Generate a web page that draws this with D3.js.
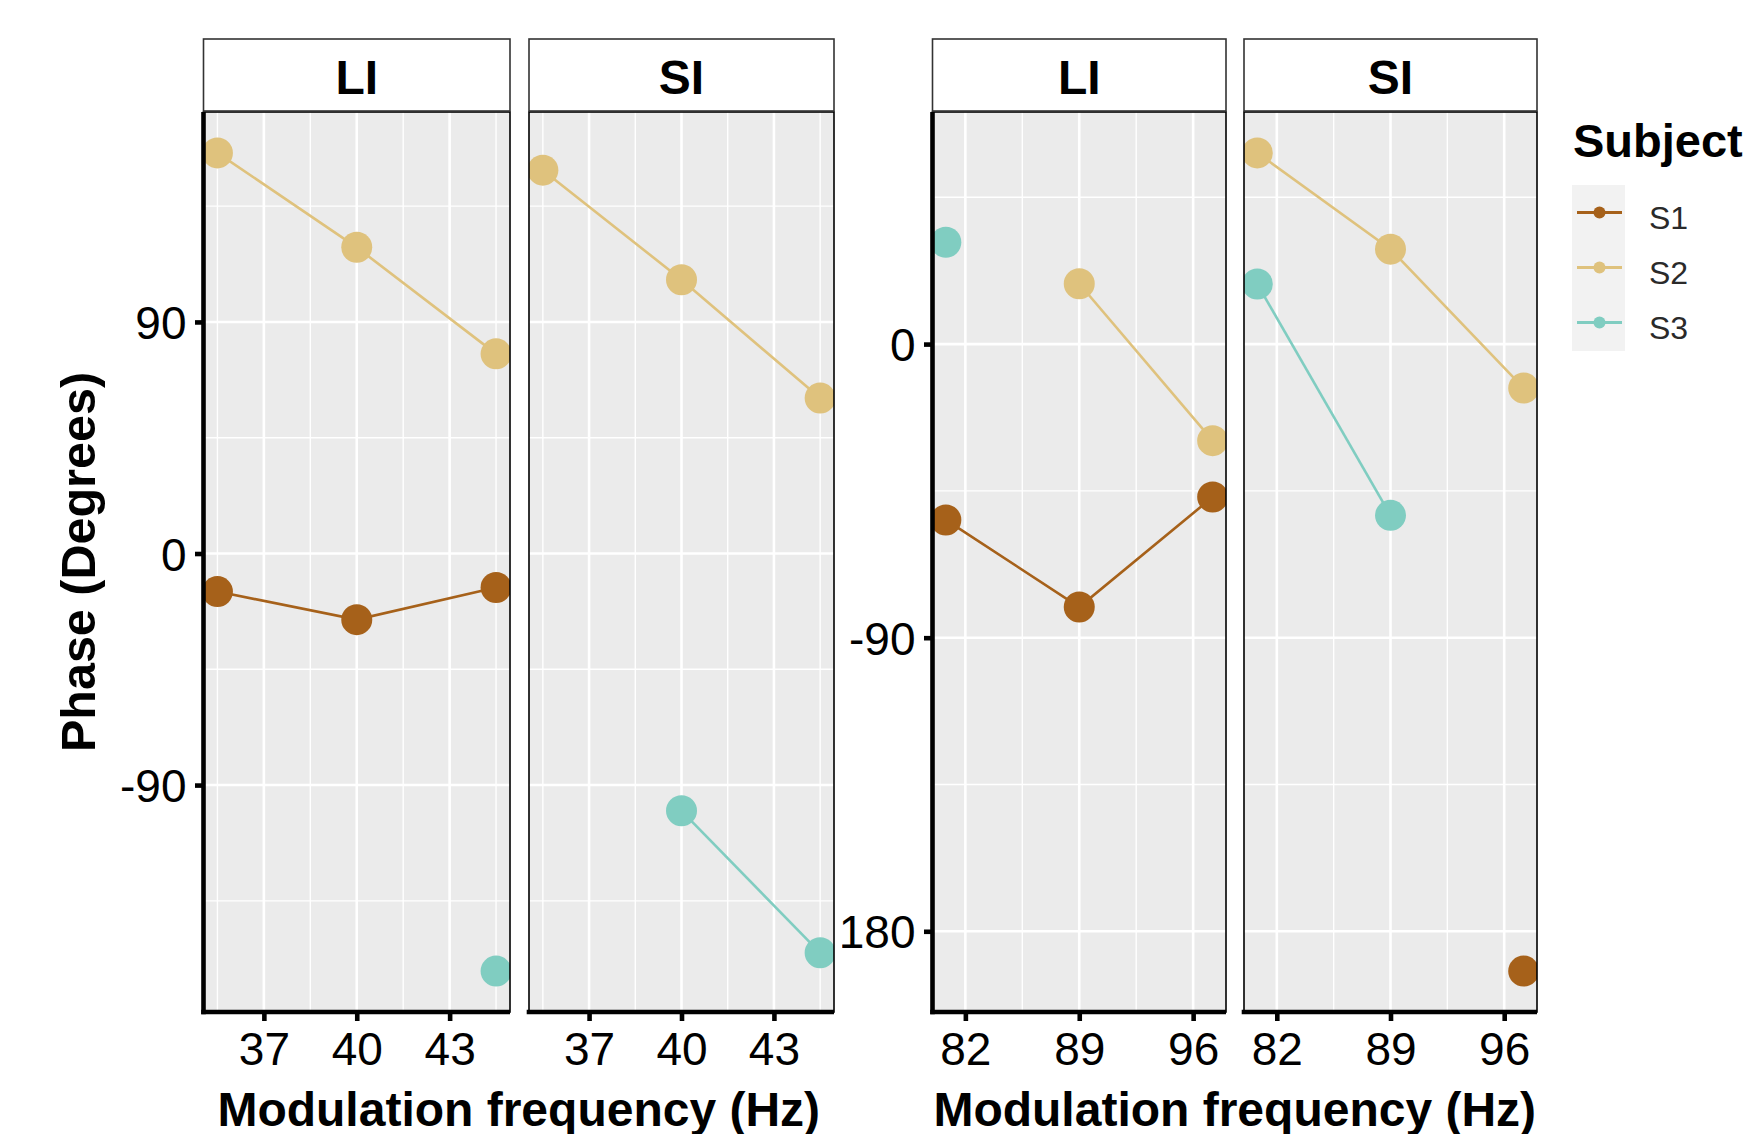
<!DOCTYPE html>
<html>
<head>
<meta charset="utf-8">
<script src="https://cdn.jsdelivr.net/npm/d3@7"></script>
<style>
  body { margin: 0; background: #fff; }
  text { font-family: "Liberation Sans", Arial, Helvetica, sans-serif; }
</style>
</head>
<body>
<svg id="chart" width="1748" height="1134"></svg>
<script>
// data
const subjects = ['S1', 'S2', 'S3']
const colors   = ['#A6611A', '#DFC27D', '#80CDC1']
const facets   = ['LI', 'SI']

const freqLow   = [35.5, 40, 44.5]
const freqHigh  = [80.8, 89, 97.2]
const xTicksLow  = [37, 40, 43]
const xTicksHigh = [82, 89, 96]
const yTicksLow  = [90, 0, -90]
const yTicksHigh = [0, -90, -180]

// phase in degrees, one row per subject (S1, S2, S3), null = no point
const phaseLowLI  = [[-14.8, -25.7, -13.2], [155.7, 119.0, 77.6], [null, null, -162.3]]
const phaseLowSI  = [[null, null, null],    [149.0, 106.4, 60.4], [null, -100.0, -155.2]]
const phaseHighLI = [[-53.9, -80.6, -46.9], [null, 18.5, -29.6],  [31.2, null, null]]
const phaseHighSI = [[null, null, -192.2],  [58.6, 29.1, -13.5],  [18.4, -52.5, null]]

const W = 1748, H = 1134
const TOP = 112, BOTTOM = 1012
const svg = d3.select('#chart')
const plain = d => String(d)   // hyphen minus, like R

function minorBreaks (br, lo, hi) {
  const s = br[1] - br[0]
  const out = []
  for (let v = d3.min(br) - s / 2; v <= d3.max(br) + s / 2 + 1e-9; v += s) {
    if (v >= lo && v <= hi) out.push(v)
  }
  return out
}

function expand (vals) {
  const e = d3.extent(vals)
  const p = (e[1] - e[0]) * 0.05
  return [e[0] - p, e[1] + p]
}

function drawPlot (o) {
  const g = svg.append('g')
  if (o.bgWidth) {
    g.append('rect').attr('x', 0).attr('y', 0)
      .attr('width', o.bgWidth).attr('height', H).attr('fill', '#fff')
  }

  const allY = o.panels.flatMap(p => p.flat()).filter(v => v != null)
  const y = d3.scaleLinear().domain(expand(allY)).range([BOTTOM, TOP])
  const xDom = expand(o.freq)
  const yDom = y.domain()

  o.panels.forEach((rows, i) => {
    const [x0, x1] = o.spans[i]
    const x = d3.scaleLinear().domain(xDom).range([x0, x1])
    const pg = g.append('g')

    pg.append('rect')
      .attr('x', x0).attr('y', TOP).attr('width', x1 - x0).attr('height', BOTTOM - TOP)
      .attr('fill', '#EBEBEB')

    // grid
    const grid = pg.append('g').attr('stroke', '#fff')
    grid.selectAll('.vmin').data(minorBreaks(o.xTicks, xDom[0], xDom[1])).join('line')
      .attr('x1', d => x(d)).attr('x2', d => x(d)).attr('y1', TOP).attr('y2', BOTTOM)
      .attr('stroke-width', 1.4)
    grid.selectAll('.hmin').data(minorBreaks(o.yTicks.slice().sort(d3.ascending), yDom[0], yDom[1])).join('line')
      .attr('x1', x0).attr('x2', x1).attr('y1', d => y(d)).attr('y2', d => y(d))
      .attr('stroke-width', 1.4)
    grid.selectAll('.vmaj').data(o.xTicks).join('line')
      .attr('x1', d => x(d)).attr('x2', d => x(d)).attr('y1', TOP).attr('y2', BOTTOM)
      .attr('stroke-width', 2.6)
    grid.selectAll('.hmaj').data(o.yTicks).join('line')
      .attr('x1', x0).attr('x2', x1).attr('y1', d => y(d)).attr('y2', d => y(d))
      .attr('stroke-width', 2.6)

    // data, clipped to the panel
    const clipId = 'clip-' + o.id + '-' + i
    pg.append('clipPath').attr('id', clipId).append('rect')
      .attr('x', x0).attr('y', TOP).attr('width', x1 - x0).attr('height', BOTTOM - TOP)
    const dg = pg.append('g').attr('clip-path', 'url(#' + clipId + ')')

    const series = rows.map((vals, s) => ({
      s, pts: vals.map((v, k) => ({ f: o.freq[k], v }))
    }))
    const line = d3.line().defined(d => d.v != null).x(d => x(d.f)).y(d => y(d.v))

    dg.selectAll('path').data(series).join('path')
      .attr('d', d => line(d.pts))
      .attr('fill', 'none')
      .attr('stroke', d => colors[d.s])
      .attr('stroke-width', 2.6)

    series.forEach(sr => {
      dg.selectAll(null).data(sr.pts.filter(p => p.v != null)).join('circle')
        .attr('cx', d => x(d.f)).attr('cy', d => y(d.v)).attr('r', 15.5)
        .attr('fill', colors[sr.s])
    })

    // panel border
    pg.append('rect')
      .attr('x', x0).attr('y', TOP).attr('width', x1 - x0).attr('height', BOTTOM - TOP)
      .attr('fill', 'none').attr('stroke', '#000').attr('stroke-width', 1.6)

    // strip
    pg.append('rect')
      .attr('x', x0).attr('y', 39).attr('width', x1 - x0).attr('height', 72)
      .attr('fill', '#fff').attr('stroke', '#333').attr('stroke-width', 1.6)
    pg.append('text')
      .attr('x', (x0 + x1) / 2).attr('y', 94)
      .attr('text-anchor', 'middle')
      .attr('font-size', 48).attr('font-weight', 'bold')
      .text(facets[i])

    // x axis
    const xa = pg.append('g').attr('transform', `translate(0,${BOTTOM})`)
      .call(d3.axisBottom(x).tickValues(o.xTicks).tickFormat(plain)
        .tickSize(9).tickSizeOuter(0).tickPadding(11))
    xa.select('.domain').attr('stroke', '#000').attr('stroke-width', 4.6)
      .attr('d', `M${x0 - 2.3},0H${x1}`)
    xa.selectAll('.tick line').attr('stroke', '#000').attr('stroke-width', 4.6)
    xa.selectAll('.tick text').attr('font-size', 46).attr('fill', '#000')
      .attr('font-family', '"Liberation Sans", Arial, sans-serif')
  })

  // y axis on the first panel
  const ya = g.append('g').attr('transform', `translate(${o.spans[0][0]},0)`)
    .call(d3.axisLeft(y).tickValues(o.yTicks).tickFormat(plain)
      .tickSize(8.5).tickSizeOuter(0).tickPadding(8.5))
  ya.select('.domain').attr('stroke', '#000').attr('stroke-width', 4.6)
    .attr('d', `M0,${TOP}V${BOTTOM + 2.3}`)
  ya.selectAll('.tick line').attr('stroke', '#000').attr('stroke-width', 4.6)
  ya.selectAll('.tick text').attr('font-size', 46).attr('fill', '#000').attr('dy', '0.36em')
    .attr('font-family', '"Liberation Sans", Arial, sans-serif')

  // x title
  g.append('text')
    .attr('x', (o.spans[0][0] + o.spans[1][1]) / 2).attr('y', 1126)
    .attr('text-anchor', 'middle')
    .attr('font-size', 48).attr('font-weight', 'bold')
    .text('Modulation frequency (Hz)')

  if (o.yTitle) {
    g.append('text')
      .attr('transform', `translate(95,${(TOP + BOTTOM) / 2}) rotate(-90)`)
      .attr('text-anchor', 'middle')
      .attr('font-size', 48.5).attr('font-weight', 'bold')
      .text(o.yTitle)
  }
}

// right plot first: the left plot's background hides the minus of "-180"
drawPlot({
  id: 'high', freq: freqHigh, xTicks: xTicksHigh, yTicks: yTicksHigh,
  panels: [phaseHighLI, phaseHighSI],
  spans: [[932.5, 1226], [1244, 1537]]
})
drawPlot({
  id: 'low', freq: freqLow, xTicks: xTicksLow, yTicks: yTicksLow,
  panels: [phaseLowLI, phaseLowSI],
  spans: [[203.5, 510], [529, 834]],
  bgWidth: 842,
  yTitle: 'Phase (Degrees)'
})

// legend
const lg = svg.append('g')
lg.append('text').attr('x', 1573).attr('y', 157)
  .attr('font-size', 47).attr('font-weight', 'bold').text('Subject')
lg.append('rect').attr('x', 1572).attr('y', 185).attr('width', 53).attr('height', 166)
  .attr('fill', '#F2F2F2')
const keyY = d3.scalePoint().domain(subjects).range([212.5, 322.5])
const key = lg.selectAll('.key').data(subjects).join('g')
  .attr('transform', d => `translate(0,${keyY(d)})`)
key.append('line').attr('x1', 1577).attr('x2', 1622).attr('y1', 0).attr('y2', 0)
  .attr('stroke', (d, i) => colors[i]).attr('stroke-width', 2.8)
key.append('circle').attr('cx', 1599.5).attr('cy', 0).attr('r', 6)
  .attr('fill', (d, i) => colors[i])
key.append('text').attr('x', 1649).attr('y', 16)
  .attr('font-size', 32).attr('fill', '#2a2a2a').text(d => d)
</script>
</body>
</html>
